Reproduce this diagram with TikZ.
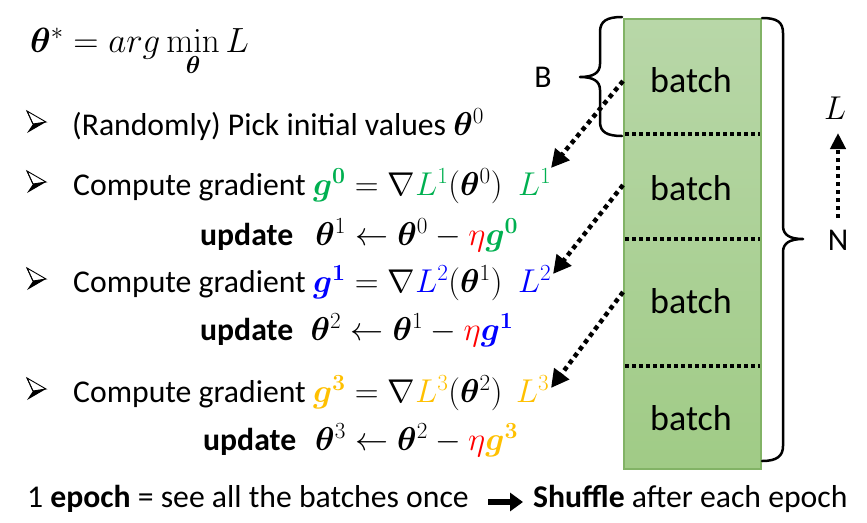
\RequirePackage{fix-cm}
\documentclass[tikz,border=0pt]{standalone}
\usepackage{amsmath,bm}
\usepackage[no-math]{fontspec}
\setmainfont{Carlito}
\usetikzlibrary{arrows.meta}
\definecolor{pgreen}{HTML}{00B050}
\definecolor{pblue}{HTML}{0000FF}
\definecolor{porange}{HTML}{FFC000}
\definecolor{pred}{HTML}{FF0000}
\definecolor{boxtop}{HTML}{B8D7A8}
\definecolor{boxbot}{HTML}{A0CB86}
\definecolor{boxedge}{HTML}{82B366}
\newcommand\Mth[1]{{\fontsize{33}{37}\selectfont$#1$}}
\begin{document}
\begin{tikzpicture}[x=1pt,y=-1pt,
  txt/.style={anchor=base west, inner sep=0pt, font=\fontsize{31.7}{37}\selectfont},
  batchlbl/.style={anchor=base, inner sep=0pt, font=\fontsize{36}{40}\selectfont},
  lbl/.style={inner sep=0pt, font=\fontsize{31.7}{37}\selectfont},
  dotarrow/.style={line width=4.5pt, dash pattern=on 4.5pt off 4pt, -{Triangle[length=18pt,width=18pt]}},
  divider/.style={line width=3.5pt, dash pattern=on 3.5pt off 3.5pt},
  bracel/.style={line width=2.5pt, line join=round, line cap=round},
  bulletpic/.pic={
    \draw[line width=0.9pt, line join=miter, fill=white] (-9,-11) -- (10,0) -- (-3,2) -- cycle;
    \fill[black] (-3,2) -- (10,0) -- (-9,11) -- cycle;
    \draw[line width=0.9pt] (-9,-11) -- (-3,2);
  }
]
\useasboundingbox (0,0) rectangle (867,522);

% stack of batches
\node[draw=boxedge, line width=1.5pt, top color=boxtop, bottom color=boxbot,
      minimum width=137pt, minimum height=450pt, inner sep=0pt, anchor=north west] (stack) at (623,18) {};
\coordinate (d1l) at (625,134); \coordinate (d1r) at (760,134);
\coordinate (d2l) at (625,239); \coordinate (d2r) at (760,239);
\coordinate (d3l) at (625,366); \coordinate (d3r) at (760,366);
\draw[divider] (d1l) -- (d1r);
\draw[divider] (d2l) -- (d2r);
\draw[divider] (d3l) -- (d3r);
\node[batchlbl] (bt1) at (691,92) {batch};
\node[batchlbl] (bt2) at (691,200) {batch};
\node[batchlbl] (bt3) at (691,313) {batch};
\node[batchlbl] (bt4) at (691,430) {batch};

% braces
\draw[bracel] (622,17) .. controls (607,17) and (600,21) .. (600,32) -- (600,64)
  .. controls (600,73) and (593,77) .. (580,77)
  .. controls (593,77) and (600,81) .. (600,90) -- (600,122)
  .. controls (600,132) and (607,136) .. (622,136);
\draw[bracel] (762,18) .. controls (777,18) and (783,22) .. (783,33) -- (783,226)
  .. controls (783,235) and (790,239) .. (803,239)
  .. controls (790,239) and (783,243) .. (783,252) -- (783,446)
  .. controls (783,456) and (777,461) .. (762,461);
\node[lbl] (Blbl) at (543,77) {B};
\node[lbl] (Nlbl) at (838,240) {N};
\node[lbl] (Llbl) at (835,108) {\Mth{L}};
\coordinate (la0) at (838,218); \coordinate (la1) at (838,133);
\draw[line width=4pt, dash pattern=on 4pt off 4pt, -{Triangle[length=16pt,width=15pt]}] (la0) -- (la1);

% left text
\node[txt] (opt) at (30,52) {{\fontsize{35}{37}\selectfont$\bm\theta^* = arg\min\limits_{\bm\theta} L$}};

\pic at (36,122) {bulletpic};
\node[txt] (r1) at (72,135) {(Randomly) Pick initial values \Mth{\bm\theta^0}};

\pic at (36,182) {bulletpic};
\node[txt] (c1) at (73,195) {Compute gradient \Mth{{\color{pgreen}\bm{g^0}} = \nabla {\color{pgreen}L^1}(\bm\theta^0)}};
\node[txt] (L1) at (518,195) {\Mth{\color{pgreen}L^1}};
\node[txt] (u1) at (200,245) {\textbf{update}\hspace{0.7em}\Mth{\bm\theta^1 \leftarrow \bm\theta^0 - {\color{pred}\eta}{\color{pgreen}\bm{g^0}}}};

\pic at (36,279) {bulletpic};
\node[txt] (c2) at (73,292) {Compute gradient \Mth{{\color{pblue}\bm{g^1}} = \nabla {\color{pblue}L^2}(\bm\theta^1)}};
\node[txt] (L2) at (518,292) {\Mth{\color{pblue}L^2}};
\node[txt] (u2) at (200,340) {\textbf{update}\hspace{0.55em}\Mth{\bm\theta^2 \leftarrow \bm\theta^1 - {\color{pred}\eta}{\color{pblue}\bm{g^1}}}};

\pic at (36,389) {bulletpic};
\node[txt] (c3) at (73,402) {Compute gradient \Mth{{\color{porange}\bm{g^3}} = \nabla {\color{porange}L^3}(\bm\theta^2)}};
\node[txt] (L3) at (516,402) {\Mth{\color{porange}L^3}};
\node[txt] (u3) at (203,450) {\textbf{update}\hspace{0.6em}\Mth{\bm\theta^3 \leftarrow \bm\theta^2 - {\color{pred}\eta}{\color{porange}\bm{g^3}}}};

% arrows from batches
\coordinate (s1) at (623,81);  \coordinate (e1) at (551,168);
\coordinate (s2) at (623,185); \coordinate (e2) at (553,274);
\coordinate (s3) at (623,292); \coordinate (e3) at (551,388);
\draw[dotarrow] (s1) -- (e1);
\draw[dotarrow] (s2) -- (e2);
\draw[dotarrow] (s3) -- (e3);

% bottom line
\node[txt] (ep1) at (27,507) {1 \textbf{epoch} = see all the batches once};
\node[txt] (ep2) at (533,507) {\textbf{Shuffle} after each epoch};
\coordinate (ba0) at (488,502); \coordinate (ba1) at (523,502);
\draw[line width=5.5pt, -{Triangle[length=13pt,width=18pt]}] (ba0) -- (ba1);
\end{tikzpicture}
\end{document}
